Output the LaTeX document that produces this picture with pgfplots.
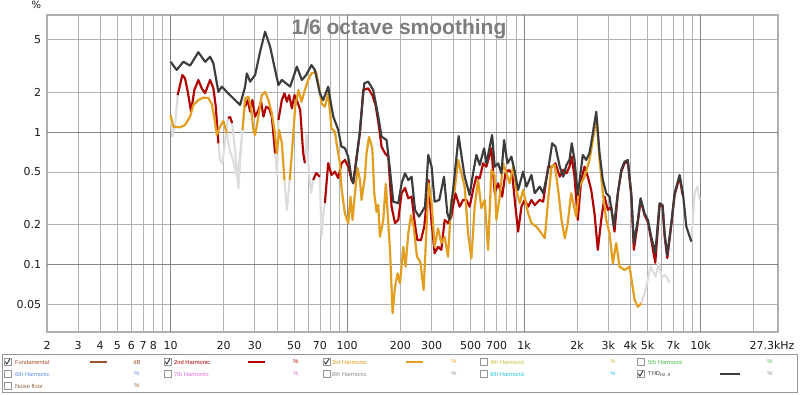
\documentclass[border=0pt]{standalone}
\usepackage{pgfplots}
\pgfplotsset{compat=1.18}
\usepackage{pgfplotstable}
\usepackage{fontspec}
\setmainfont{DejaVu Sans}
\newfontfamily\arialfont{Liberation Sans}

\definecolor{thdc}{RGB}{60,60,60}
\definecolor{hii}{RGB}{178,0,0}
\definecolor{hiii}{RGB}{229,158,28}
\definecolor{lgray}{RGB}{220,220,220}
\definecolor{gmaj}{RGB}{130,130,130}
\definecolor{gmin}{RGB}{178,178,178}
\definecolor{framec}{RGB}{175,175,175}
\definecolor{labc}{RGB}{25,25,25}
\definecolor{titc}{RGB}{125,125,125}
\definecolor{fundc}{RGB}{160,82,45}
\definecolor{ivc}{RGB}{200,190,60}
\definecolor{vc}{RGB}{70,190,70}
\definecolor{vic}{RGB}{90,140,220}
\definecolor{viic}{RGB}{220,110,220}
\definecolor{viiic}{RGB}{140,140,140}
\definecolor{ixc}{RGB}{40,195,220}
\definecolor{noisec}{RGB}{150,100,60}
\definecolor{boxc}{RGB}{150,150,150}

\pgfplotstableread{
f v c
10.0 3.39 1
10.84 2.94 1
11.82 3.39 1
12.9 3.17 1
14.37 4.0 1
15.69 3.39 1
16.74 3.70 1
17.48 3.30 1
18.66 2.01 1
19.5 2.20 1
20.82 2.01 1
23.72 1.69 1
24.76 1.60 1
26.43 2.20 1
27.02 2.77 1
28.21 2.40 1
30.11 2.69 1
32.14 4.04 1
34.3 5.71 1
36.62 4.40 1
39.09 2.94 1
40.81 2.26 1
42.66 2.47 1
47.54 2.20 1
51.88 3.11 1
55.37 2.47 1
58.57 2.69 1
62.77 3.20 1
65.61 2.94 1
70.02 1.96 1
73.11 1.74 1
78.04 2.20 1
81.47 1.55 1
83.32 1.31 1
88.9 1.04 1
92.83 0.775 1
97.0 0.757 1
101.3 0.651 1
105.8 0.447 1
108.1 0.410 1
112.9 0.615 1
118.0 1.04 1
124.9 2.33 1
131.5 2.40 1
140.4 2.07 1
149.8 1.31 1
156.4 0.922 1
167.0 0.870 1
174.6 0.517 1
182.2 0.298 1
194.5 0.290 1
203.1 0.410 1
212.3 0.488 1
221.6 0.434 1
231.4 0.460 1
241.9 0.258 1
254.8 0.230 1
262.6 0.245 1
275.5 0.273 1
287.6 0.671 1
300.3 0.547 1
312.3 0.298 1
332 0.307 1
353 0.460 1
368.6 0.243 1
379.8 0.217 1
397.1 0.365 1
427.1 0.933 1
446.7 0.615 1
461.9 0.460 1
493.1 0.335 1
515.5 0.488 1
538.2 0.671 1
561.9 0.564 1
595 0.753 1
613.1 0.580 1
660.5 0.949 1
683.3 0.547 1
714.2 0.580 1
745.7 0.488 1
772.4 0.870 1
806.4 0.580 1
849.6 0.651 1
887 0.502 1
927.1 0.365 1
989.7 0.502 1
1033 0.387 1
1103 0.474 1
1151 0.345 1
1229 0.387 1
1285 0.345 1
1371 0.517 1
1445 0.822 1
1508 0.775 1
1595 0.547 1
1668 0.460 1
1741 0.564 1
1810 0.615 1
1866 0.822 1
1933 0.615 1
2017 0.335 1
2153 0.671 1
2251 0.615 1
2350 0.694 1
2454 0.978 1
2566 1.42 1
2679 0.691 1
2796 0.434 1
2922 0.345 1
3051 0.325 1
3227 0.193 1
3400 0.345 1
3553 0.517 1
3710 0.597 1
3873 0.615 1
4050 0.345 1
4189 0.145 1
4413 0.217 1
4572 0.316 1
4816 0.243 1
5028 0.217 1
5255 0.162 1
5537 0.122 1
5857 0.290 1
6091 0.281 1
6252 0.172 1
6476 0.118 1
6823 0.205 1
7123 0.345 1
7603 0.474 1
7938 0.345 1
8299 0.193 1
8857 0.149 1
9247 0.345 0
9579 0.387 0
9870 0.307 0
}\tabTHD

\pgfplotstableread{
f v c
10.0 1.305 0
10.24 0.922 0
10.60 1.096 0
10.98 1.902 1
11.67 2.69 1
12.08 2.543 1
12.52 2.01 1
13.07 1.423 1
13.64 2.075 1
14.37 2.47 1
15.02 2.137 1
15.69 1.96 1
16.74 2.47 1
17.48 2.14 1
18.04 1.552 1
18.66 0.822 1
19.07 0.615 0
19.66 0.580 0
20.37 0.870 0
21.18 1.275 1
21.74 1.298 1
22.31 1.169 1
23.19 0.731 0
24.22 0.376 0
25.08 0.775 0
25.75 1.232 0
26.43 1.552 1
27.37 1.744 1
28.21 1.423 1
29.07 1.744 1
30.11 1.305 1
31.44 1.466 1
32.57 1.693 1
33.56 1.305 1
34.75 1.552 1
36.14 1.509 1
37.44 1.305 1
39.09 0.691 1
40.12 0.474 0
40.81 1.232 1
42.66 1.744 1
44.14 1.959 1
45.54 1.693 1
46.92 1.902 1
48.61 1.509 1
50.28 1.902 1
51.88 1.744 1
54.17 1.466 1
56.33 0.694 1
57.58 0.583 1
58.82 0.949 0
60.91 0.474 0
62.52 0.346 0
64.18 0.434 1
66.74 0.490 1
70.02 0.460 1
71.5 0.162 0
73.11 0.236 0
74.76 0.291 1
78.04 0.583 1
81.47 0.474 1
85.18 0.502 1
88.9 0.450 1
92.83 0.580 1
97.0 0.615 1
101.3 0.547 1
105.8 0.434 1
108.1 0.410 1
112.9 0.651 1
118.0 0.978 1
123.2 2.075 1
131.5 2.137 1
138.6 1.902 1
144.7 1.599 1
149.8 1.196 1
156.4 0.775 1
163.6 0.691 1
170.8 0.651 1
178.2 0.273 1
186.4 0.205 1
194.5 0.217 1
203.1 0.345 1
212.3 0.378 1
221.6 0.316 1
231.4 0.325 1
241.9 0.199 1
249.3 0.153 1
261.6 0.153 1
273.1 0.195 1
288.8 0.434 1
299.2 0.217 1
312.3 0.1215 1
326.5 0.136 1
340.9 0.129 1
355.9 0.217 1
372.0 0.205 1
388.3 0.230 1
409.2 0.345 1
432.8 0.273 1
452.5 0.307 1
472.4 0.307 1
493.1 0.273 1
515.5 0.365 1
538.2 0.460 1
561.9 0.447 1
587.3 0.580 1
613.1 0.547 1
654.4 0.753 1
683.3 0.345 1
714.2 0.410 1
752.6 0.325 1
785.6 0.488 1
820.1 0.517 1
857.6 0.488 1
887.0 0.307 1
927.1 0.177 1
967.9 0.273 1
1010 0.307 1
1056 0.273 1
1103 0.307 1
1151 0.281 1
1229 0.307 1
1285 0.298 1
1371 0.547 1
1445 0.547 1
1508 0.580 1
1595 0.460 1
1668 0.517 1
1741 0.488 1
1810 0.547 1
1866 0.651 1
1933 0.460 1
2017 0.217 1
2109 0.434 1
2202 0.547 1
2299 0.460 1
2403 0.365 1
2508 0.243 1
2619 0.129 1
2737 0.217 1
2858 0.325 1
2984 0.258 1
3120 0.273 1
3256 0.177 1
3400 0.345 1
3553 0.499 1
3710 0.583 1
3873 0.594 1
4050 0.329 1
4189 0.129 1
4413 0.209 1
4572 0.307 1
4816 0.236 1
5028 0.209 1
5255 0.153 1
5537 0.103 1
5857 0.281 1
6091 0.276 1
6252 0.164 1
6476 0.112 1
6823 0.199 1
7123 0.335 1
7603 0.458 1
7907 0.335 1
}\tabH

\pgfplotstableread{
f v c
10.0 1.344 1
10.37 1.096 1
11.32 1.085 1
12.08 1.129 1
12.9 1.305 1
13.46 1.599 1
14.37 1.744 1
15.34 1.815 1
16.37 1.806 1
17.12 1.626 1
17.87 1.190 1
18.27 0.949 1
19.07 1.096 1
19.92 1.211 1
20.82 0.978 1
21.60 0.731 0
22.60 0.615 0
23.81 0.450 0
24.76 0.671 0
25.58 1.035 1
26.43 1.796 1
27.59 1.847 1
28.58 1.518 1
29.45 1.035 1
30.11 0.949 1
31.19 1.232 1
32.87 1.902 1
34.3 2.01 1
35.81 1.744 1
37.44 1.384 1
38.73 1.035 1
39.96 0.691 1
41.18 1.035 1
42.66 0.822 1
44.14 0.434 1
45.54 0.258 0
47.23 0.434 1
48.61 0.691 1
50.75 1.552 1
52.98 2.075 1
55.1 1.693 1
57.58 2.075 1
60.12 2.47 1
62.77 2.773 1
66.74 2.837 1
70.02 2.01 1
71.5 1.647 1
74.76 1.552 1
78.04 1.959 1
81.47 1.066 1
85.18 1.005 1
86.98 0.822 1
90.93 0.580 1
92.83 0.376 1
97.0 0.243 1
101.3 0.205 1
104.4 0.325 1
107.2 0.217 1
110.6 0.345 1
114.4 0.535 1
118.0 0.434 1
120.5 0.307 1
126.0 0.460 1
128.6 0.691 1
132.9 0.917 1
138.6 0.753 1
142.2 0.345 1
146.6 0.250 1
149.8 0.281 1
153.2 0.162 1
160.0 0.217 1
165.3 0.405 1
174.6 0.129 1
180.6 0.0428 1
186.4 0.068 1
192.8 0.0858 1
198.9 0.0721 1
207.6 0.136 1
213.9 0.0963 1
221.6 0.172 1
229.6 0.236 1
237.5 0.193 1
248.3 0.1145 1
259.2 0.1044 1
270.6 0.0642 1
288.8 0.410 1
300.3 0.290 1
312.3 0.136 1
326.5 0.1875 1
340.9 0.145 1
355.9 0.162 1
372.0 0.1145 1
388.3 0.307 1
405.5 0.365 1
423.9 0.615 1
442.6 0.488 1
461.9 0.387 1
483.1 0.172 1
504.1 0.111 1
526.3 0.273 1
550.2 0.434 1
574.3 0.266 1
599.7 0.307 1
626.9 0.129 1
654.4 0.517 1
680.6 0.474 1
698.6 0.217 1
729.4 0.325 1
762.4 0.580 1
796.0 0.488 1
831.1 0.410 1
868.9 0.547 1
907.1 0.365 1
946.9 0.290 1
989.7 0.365 1
1056 0.243 1
1103 0.205 1
1177 0.193 1
1257 0.172 1
1312 0.158 1
1371 0.307 1
1432 0.547 1
1495 0.564 1
1562 0.365 1
1632 0.217 1
1703 0.158 1
1764 0.199 1
1851 0.345 1
1976 0.230 1
2063 0.387 1
2202 0.460 1
2350 0.615 1
2508 1.035 1
2566 1.344 1
2679 0.615 1
2796 0.345 1
2922 0.217 1
3051 0.172 1
3185 0.102 1
3330 0.145 1
3476 0.0963 1
3710 0.0909 1
3961 0.0963 1
4228 0.054 1
4413 0.048 1
4614 0.0509 1
4880 0.0642 0
5209 0.0963 0
5559 0.0809 0
5781 0.1026 0
6012 0.0809 0
6335 0.0833 0
6674 0.0725 0
}\tabHH

\newcommand\cbox[3]{%
  \draw[draw=boxc, fill=white, line width=0.5pt] (#1,#2-3.5) rectangle ++(7,7);
  \ifnum#3=1 \draw[line width=0.9pt, draw=black!80] (#1+1.3,#2+0.3) -- (#1+2.9,#2-2) -- (#1+5.9,#2+3);\fi}
\newcommand\ltext[4]{\node[anchor=west, inner sep=0pt, text=#4, font=\arialfont\fontsize{5.8}{6}\selectfont] at (#1,#2) {#3};}
\newcommand\lunit[4]{\node[anchor=center, inner sep=0pt, text=#4, font=\arialfont\fontsize{5.8}{6}\selectfont] at (#1,#2) {#3};}

\begin{document}
\begin{tikzpicture}[x=1pt,y=1pt]
\useasboundingbox (0,0) rectangle (800,394);
\begin{axis}[
  at={(47pt,62.3pt)}, anchor=south west,
  scale only axis, width=730.7pt, height=317pt,
  xmode=log, ymode=log,
  xmin=2, xmax=27300, ymin=0.0311, ymax=7.68,
  axis line style={draw=framec, line width=2.4pt},
  tick style={draw=none},
  grid=major,
  major grid style={draw=gmin, line width=0.7pt},
  xtick={2,3,4,5,6,7,8,9,20,30,40,50,60,70,80,90,200,300,400,500,600,700,800,900,2000,3000,4000,5000,6000,7000,8000,9000,20000},
  xticklabels={2,3,4,5,6,7,8,{},20,30,{},50,{},70,{},{},200,300,{},500,{},700,{},{},2k,3k,4k,5k,{},7k,{},{},{}},
  extra x ticks={10,100,1000,10000},
  extra x tick labels={10,100,1k,10k},
  extra x tick style={grid=major, grid style={draw=gmaj, line width=0.8pt}, major grid style={draw=gmaj, line width=0.8pt}},
  ytick={0.05,0.2,0.5,2,5},
  yticklabels={0.05,0.2,0.5,2,5},
  extra y ticks={0.1,1},
  extra y tick labels={0.1,1},
  extra y tick style={grid=major, grid style={draw=gmaj, line width=0.8pt}, major grid style={draw=gmaj, line width=0.8pt}},
  xticklabel style={anchor=base, yshift=-17.6pt, font=\fontsize{11}{13}\selectfont, text=labc},
  yticklabel style={xshift=-2.3pt, font=\fontsize{11}{13}\selectfont, text=labc},
  every axis plot/.append style={line width=2.1pt, line join=round},
]
\addplot[lgray, no markers] table[x=f,y=v]{\tabTHD};
\addplot[lgray, no markers] table[x=f,y=v]{\tabH};
\addplot[lgray, no markers] table[x=f,y=v]{\tabHH};
\addplot[hii, no markers, unbounded coords=jump] table[x=f, y expr=\thisrow{v}*\thisrow{c}]{\tabH};
\addplot[hiii, no markers, unbounded coords=jump] table[x=f, y expr=\thisrow{v}*\thisrow{c}]{\tabHH};
\addplot[thdc, no markers, unbounded coords=jump] table[x=f, y expr=\thisrow{v}*\thisrow{c}]{\tabTHD};
\end{axis}
% title and unit labels
\node[anchor=base, inner sep=0pt, text=titc, font=\arialfont\bfseries\fontsize{21}{24}\selectfont] at (399,359.3) {1/6 octave smoothing};
\node[anchor=base, inner sep=0pt, text=labc, font=\fontsize{10}{12}\selectfont] at (36.5,385.7) {\%};
\node[anchor=base, inner sep=0pt, text=labc, font=\fontsize{11}{13}\selectfont] at (772,44.7) {27.3kHz};
% legend box
\draw[draw=boxc, fill=white, line width=0.6pt] (2,40) rectangle (797,2);
% row 1
\cbox{4}{32}{1}\ltext{15}{32}{Fundamental}{fundc}
\draw[fundc, line width=1.2pt] (90,32) -- (107,32); \lunit{137}{32}{dB}{fundc}
\cbox{164}{32}{1}\ltext{174}{32}{2nd Harmonic}{hii}
\draw[hii, line width=1.2pt] (248,32) -- (265,32); \lunit{296}{32}{\%}{hii}
\cbox{323}{32}{1}\ltext{332}{32}{3rd Harmonic}{hiii}
\draw[hiii, line width=1.2pt] (406,32) -- (423,32); \lunit{454}{32}{\%}{hiii}
\cbox{480}{32}{0}\ltext{490}{32}{4th Harmonic}{ivc}
\lunit{613}{32}{\%}{ivc}
\cbox{637}{32}{0}\ltext{648}{32}{5th Harmonic}{vc}
\lunit{770}{32}{\%}{vc}
% row 2
\cbox{4}{20}{0}\ltext{15}{20}{6th Harmonic}{vic}
\lunit{137}{20}{\%}{vic}
\cbox{164}{20}{0}\ltext{174}{20}{7th Harmonic}{viic}
\lunit{296}{20}{\%}{viic}
\cbox{323}{20}{0}\ltext{332}{20}{8th Harmonic}{viiic}
\lunit{454}{20}{\%}{viiic}
\cbox{480}{20}{0}\ltext{490}{20}{9th Harmonic}{ixc}
\lunit{613}{20}{\%}{ixc}
\cbox{637}{20}{1}\ltext{648}{20}{THD\raisebox{-1.2pt}{\fontsize{4.2}{5}\selectfont H2..9}}{thdc}
\draw[thdc, line width=1.2pt] (720,20) -- (740,20); \lunit{770}{20}{\%}{viiic}
% row 3
\cbox{4}{8}{0}\ltext{15}{8}{Noise floor}{noisec}
\lunit{137}{8}{\%}{noisec}
\end{tikzpicture}
\end{document}
